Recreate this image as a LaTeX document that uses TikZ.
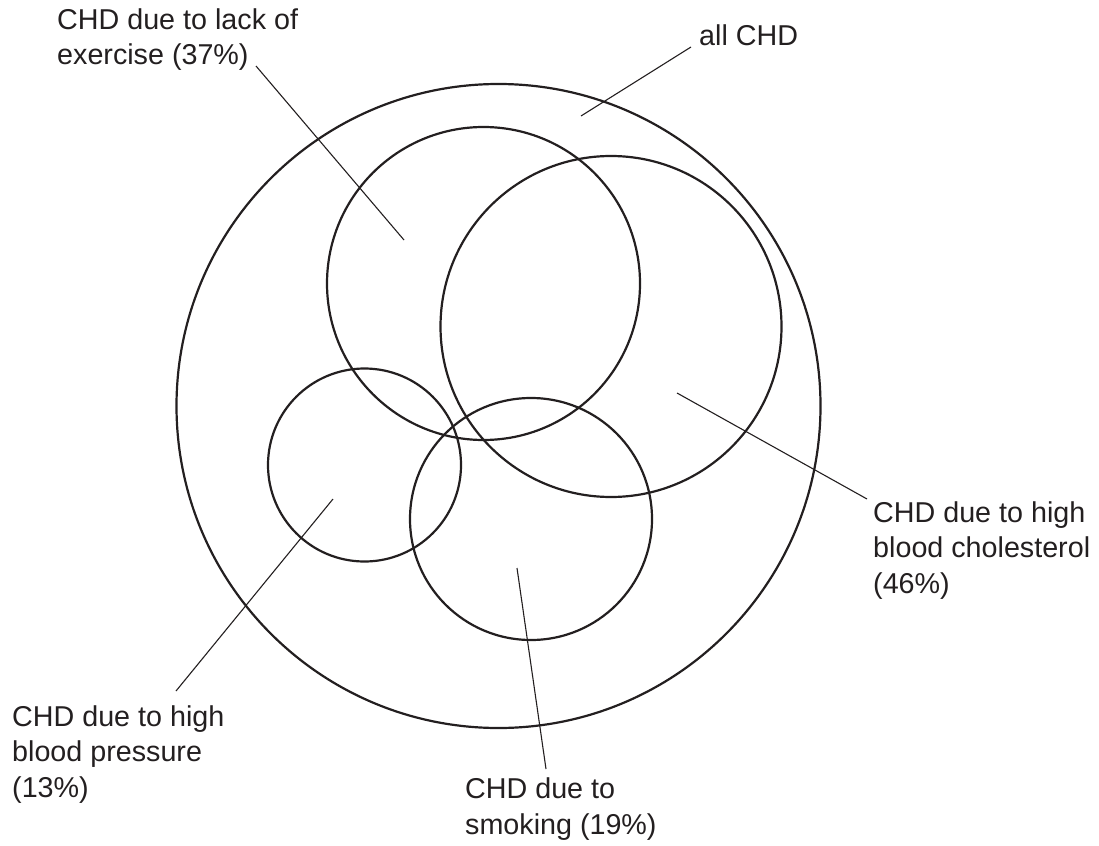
\documentclass[tikz,border=0pt]{standalone}
\usepackage{fontspec}
\setmainfont{Liberation Sans}
\usepackage{tikz}
\definecolor{ink}{RGB}{35,31,32}

\begin{document}
\begin{tikzpicture}[x=1pt,y=-1pt,
	ring/.style={circle,draw=ink,line width=2.2pt,inner sep=0pt},
	label text/.style={anchor=base west,align=left,inner sep=0pt,text=ink,
	font=\fontsize{28.7}{35.5}\selectfont},
	leader/.style={draw=ink,line width=1.1pt}]
\useasboundingbox (0,0) rectangle (1099,845);
% circles
\node[ring,minimum size=644pt] (all) at (498.5,406) {};
\node[ring,minimum size=313pt] (exer) at (483.5,283.5) {};
\node[ring,minimum size=341pt] (chol) at (611,326.5) {};
\node[ring,minimum size=193pt] (bp) at (364.5,465) {};
\node[ring,minimum size=242pt] (smoke) at (531,519) {};
% labels (base = last line)
\node[label text] (exerlbl) at (57,65) {CHD due to lack of\\exercise (37\%)};
\node[label text] (alllbl) at (699,46) {all CHD};
\node[label text] (chollbl) at (873,593) {CHD due to high\\blood cholesterol\\(46\%)};
\node[label text] (bplbl) at (12,797) {CHD due to high\\blood pressure\\(13\%)};
\node[label text] (smokelbl) at (465,834) {CHD due to\\smoking (19\%)};
% leader ends
\coordinate (exerA) at (256,66);
\coordinate (exerB) at (404,240);
\coordinate (allA) at (691,47);
\coordinate (allB) at (581,116);
\coordinate (cholA) at (867,499);
\coordinate (cholB) at (677,393);
\coordinate (bpA) at (176,691);
\coordinate (bpB) at (333,499);
\coordinate (smokeA) at (546,769);
\coordinate (smokeB) at (517,568);
\draw[leader] (exerA) -- (exerB);
\draw[leader] (allA) -- (allB);
\draw[leader] (cholA) -- (cholB);
\draw[leader] (bpA) -- (bpB);
\draw[leader] (smokeA) -- (smokeB);
\end{tikzpicture}
\end{document}
